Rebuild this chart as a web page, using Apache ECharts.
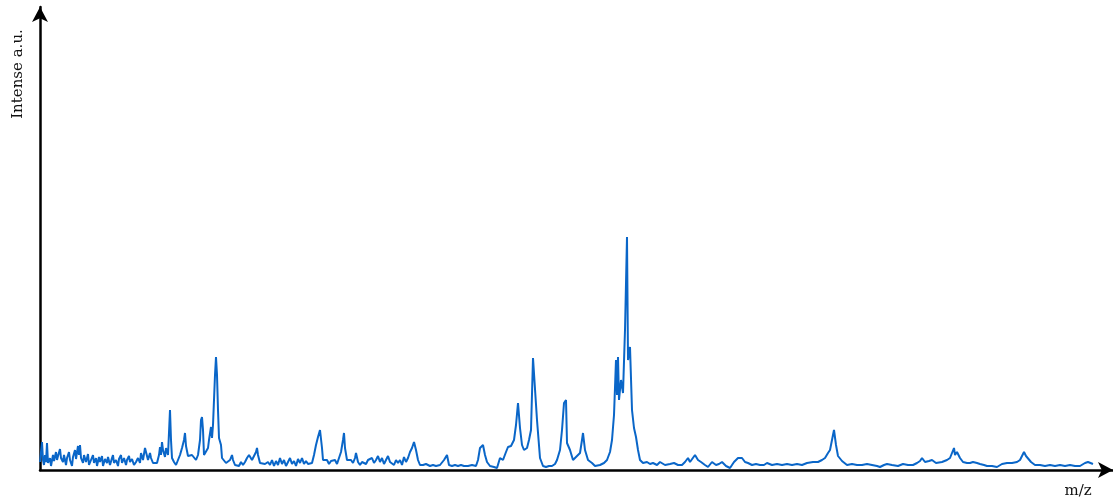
<!DOCTYPE html>
<html>
<head>
<meta charset="utf-8">
<script src="https://cdn.jsdelivr.net/npm/echarts@6/dist/echarts.min.js"></script>
<style>
  html, body { margin: 0; padding: 0; background: #fff; }
  #chart { width: 1113px; height: 499px; }
</style>
</head>
<body>
<div id="chart"></div>
<script>
// spectrum, m/z in arbitrary units, intensity a.u.
const mz = [
    0, 1, 2, 3, 4, 5, 6, 7, 8, 10, 11, 13, 14, 16, 17, 18, 20, 21, 23, 24, 26, 27, 29, 30, 32, 33, 35, 36, 38, 39,
    40, 41, 43, 44, 46, 48, 49, 51, 53, 54, 56, 57, 59, 60, 62, 63, 65, 67, 68, 70, 72, 73, 74, 76, 78, 79, 81, 82, 84, 86,
    87, 89, 90, 92, 94, 96, 98, 100, 101, 103, 105, 107, 108, 110, 111, 113, 115, 117, 119, 120, 121, 122, 123, 125, 126, 128, 130, 131, 132, 134,
    136, 138, 140, 142, 144, 145, 146, 148, 150, 152, 154, 156, 158, 160, 161, 162, 163, 164, 166, 168, 169, 171, 172, 173, 174, 175, 176, 177, 178, 179,
    180, 181, 182, 184, 186, 188, 190, 192, 193, 195, 197, 199, 201, 203, 205, 207, 209, 210, 212, 214, 216, 217, 218, 220, 222, 225, 228, 230, 232, 234,
    236, 238, 240, 242, 244, 246, 248, 250, 252, 254, 256, 258, 260, 262, 264, 266, 268, 270, 272, 274, 276, 278, 280, 282, 283, 285, 287, 289, 291, 293,
    295, 297, 299, 301, 303, 304, 305, 307, 309, 311, 313, 315, 316, 318, 320, 322, 324, 326, 328, 330, 332, 334, 336, 338, 340, 342, 344, 346, 348, 350,
    352, 354, 356, 358, 360, 362, 364, 366, 368, 370, 372, 374, 376, 378, 380, 383, 386, 390, 393, 396, 400, 402, 404, 407, 409, 412, 415, 418, 421, 424,
    426, 428, 432, 436, 438, 440, 442, 443, 445, 447, 450, 454, 457, 460, 463, 466, 468, 471, 474, 476, 478, 480, 482, 484, 487, 489, 491, 493, 495, 497,
    500, 503, 506, 509, 512, 515, 517, 520, 522, 524, 526, 527, 530, 533, 536, 538, 540, 542, 543, 545, 548, 552, 555, 557, 560, 564, 567, 570, 572, 574,
    576, 577, 578, 579, 581, 583, 585, 587, 588, 590, 591, 592, 594, 596, 598, 600, 603, 607, 610, 613, 617, 620, 625, 630, 634, 638, 642, 645, 648, 650,
    652, 655, 658, 661, 665, 668, 672, 676, 679, 682, 686, 690, 694, 698, 702, 705, 708, 712, 716, 720, 724, 727, 732, 737, 742, 747, 752, 757, 762, 767,
    773, 778, 782, 785, 788, 790, 792, 794, 796, 798, 802, 807, 812, 817, 822, 827, 832, 837, 840, 844, 847, 852, 858, 863, 868, 873, 877, 880, 882, 885,
    889, 892, 896, 902, 907, 910, 912, 914, 915, 917, 920, 923, 927, 930, 933, 935, 937, 940, 944, 947, 952, 957, 962, 967, 972, 977, 980, 982, 984, 986,
    988, 991, 995, 1000, 1005, 1010, 1015, 1020, 1025, 1030, 1035, 1040, 1045, 1048, 1050, 1053
];
const intensity = [
    8, 18, 28, 10, 5, 15, 8, 27, 7, 12, 4, 15, 9, 18, 10, 14, 21, 12, 8, 15, 5, 12, 18, 10, 4, 13, 20, 11, 24, 15,
    25, 12, 7, 15, 8, 16, 5, 10, 15, 7, 12, 4, 13, 8, 14, 4, 11, 7, 13, 5, 12, 15, 7, 10, 4, 11, 15, 7, 12, 5,
    10, 14, 8, 11, 5, 8, 12, 7, 17, 10, 22, 14, 10, 17, 12, 7, 5, 7, 15, 23, 15, 28, 20, 13, 22, 15, 60, 30, 12, 8,
    5, 7, 15, 22, 30, 37, 24, 14, 12, 15, 13, 10, 15, 30, 50, 53, 40, 15, 14, 22, 30, 43, 32, 45, 70, 95, 113, 95, 60, 32,
    33, 25, 12, 10, 7, 5, 10, 15, 10, 5, 7, 4, 8, 5, 8, 12, 15, 17, 10, 12, 18, 22, 15, 7, 5, 6, 8, 5, 10, 4,
    9, 5, 12, 6, 10, 4, 8, 12, 6, 9, 4, 11, 7, 12, 6, 9, 6, 8, 7, 15, 25, 33, 40, 22, 10, 8, 10, 6, 9, 7,
    10, 6, 12, 18, 30, 37, 22, 10, 8, 10, 7, 12, 17, 8, 5, 8, 10, 6, 10, 8, 12, 7, 10, 14, 8, 12, 6, 10, 14, 8,
    10, 5, 10, 7, 10, 5, 13, 8, 12, 18, 22, 28, 20, 10, 5, 5, 6, 4, 5, 4, 5, 7, 10, 15, 5, 4, 5, 4, 5, 4,
    5, 4, 5, 4, 10, 22, 24, 25, 15, 8, 4, 3, 2, 12, 10, 18, 23, 24, 30, 45, 67, 42, 25, 20, 22, 30, 40, 112, 112, 50,
    12, 4, 3, 4, 4, 6, 10, 20, 40, 67, 70, 27, 20, 10, 13, 12, 17, 30, 37, 20, 10, 7, 4, 2, 5, 7, 10, 18, 30, 55,
    110, 75, 113, 70, 90, 77, 140, 233, 110, 123, 123, 60, 42, 33, 20, 10, 7, 8, 6, 7, 5, 8, 5, 6, 7, 5, 5, 8, 12, 8,
    10, 15, 10, 8, 5, 3, 8, 5, 6, 8, 4, 2, 8, 12, 12, 8, 7, 5, 6, 5, 5, 7, 5, 6, 5, 6, 5, 6, 5, 7,
    8, 8, 10, 12, 17, 20, 30, 40, 25, 14, 9, 5, 6, 5, 5, 6, 5, 4, 3, 5, 6, 5, 4, 6, 5, 5, 7, 9, 12, 8,
    9, 10, 7, 8, 10, 12, 14, 22, 15, 18, 12, 8, 7, 7, 8, 10, 7, 6, 5, 4, 4, 3, 6, 7, 7, 8, 10, 12, 18, 14,
    12, 8, 5, 5, 4, 5, 4, 5, 4, 5, 4, 4, 7, 8, 8, 6
];

const AXIS_STYLE = {
    show: true,
    symbol: ['none', 'arrow'],
    symbolSize: [12, 15],
    lineStyle: {color: '#000', width: 2.5},
};

const chart = echarts.init(document.getElementById('chart'));
chart.setOption({
    animation: false,
    grid: {left: 40, right: 0, top: 7, bottom: 29},
    xAxis: {
        type: 'value',
        min: 0,
        max: 1073,
        axisLine: AXIS_STYLE,
        axisTick: {show: false},
        axisLabel: {show: false},
        splitLine: {show: false},
    },
    yAxis: {
        type: 'value',
        min: 0,
        max: 463,
        axisLine: AXIS_STYLE,
        axisTick: {show: false},
        axisLabel: {show: false},
        splitLine: {show: false},
    },
    graphic: [
        {
            type: 'text',
            x: 18,
            y: 74,
            rotation: Math.PI / 2,
            style: {
                text: 'Intense a.u.',
                font: '15px "DejaVu Serif"',
                fill: '#111',
                align: 'center',
                verticalAlign: 'middle',
            },
        },
        {
            type: 'text',
            x: 1078,
            y: 491,
            style: {
                text: 'm/z',
                font: '15px "DejaVu Serif"',
                fill: '#111',
                align: 'center',
                verticalAlign: 'middle',
            },
        },
    ],
    series: [
        {
            type: 'line',
            data: mz.map((m, i) => [m, intensity[i]]),
            showSymbol: false,
            lineStyle: {color: '#0a66c8', width: 2},
        },
    ],
});
</script>
</body>
</html>
